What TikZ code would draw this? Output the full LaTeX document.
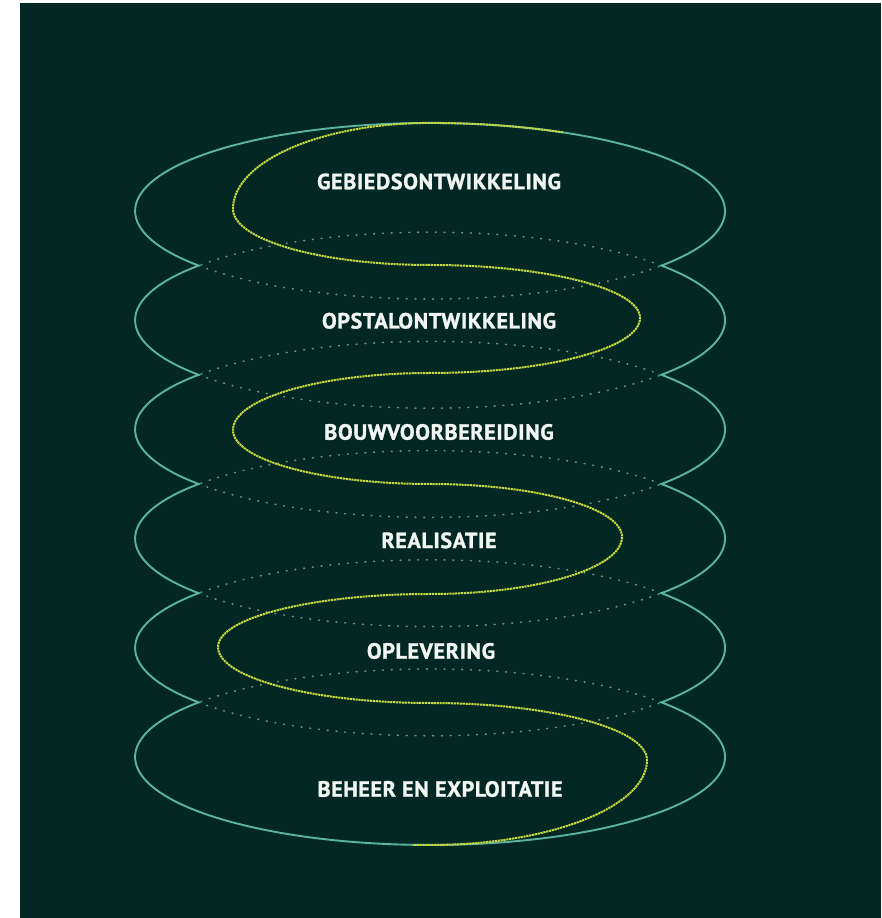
\documentclass[tikz,border=0pt]{standalone}
\usepackage{fontspec}
\setmainfont{PT Sans}
\newfontfamily\phasefont{PT Sans}[BoldFeatures={FakeBold=1.4}, LetterSpace=3]
\definecolor{bgdark}{RGB}{3,40,36}
\definecolor{outlinecol}{RGB}{92,180,160}
\definecolor{hiddencol}{RGB}{92,150,132}
\definecolor{spiralcol}{RGB}{200,218,62}
\definecolor{labelcol}{RGB}{242,246,242}
\begin{document}
\begin{tikzpicture}[x=1pt,y=1pt,
  outline/.style={draw=outlinecol, line width=1.9pt},
  hiddenarc/.style={draw=hiddencol, line width=1.6pt, line cap=round, dash pattern=on 0.8pt off 8pt},
  spiral/.style={draw=spiralcol, line width=2pt, dash pattern=on 2.2pt off 0.7pt},
  phase/.style={text=labelcol, font=\phasefont\bfseries\fontsize{22}{24}\selectfont, inner sep=0pt},
  ell/.style={x radius=295pt, y radius=88pt}]
\useasboundingbox (0,0) rectangle (881,918);
\fill[white] (0,0) rectangle (881,918);
\fill[bgdark] (20,0) rectangle (881,914.5);

% hidden (back) arcs between the stacked rings
\foreach \c in {707,597.8,488.6,379.4,270.2}{
  \draw[hiddenarc] (198.6,{\c-54.6}) arc[start angle=218.35, end angle=321.65, ell];
  \draw[hiddenarc] (661.4,{\c-54.6}) arc[start angle=38.35, end angle=141.65, ell];
}

% outer envelope of the stacked rings
\draw[outline] (661.4,652.4)
  arc[start angle=-38.35, end angle=218.35, ell]
  arc[start angle=141.65, end angle=218.35, ell]
  arc[start angle=141.65, end angle=218.35, ell]
  arc[start angle=141.65, end angle=218.35, ell]
  arc[start angle=141.65, end angle=218.35, ell]
  arc[start angle=141.65, end angle=398.35, ell]
  arc[start angle=-38.35, end angle=38.35, ell]
  arc[start angle=-38.35, end angle=38.35, ell]
  arc[start angle=-38.35, end angle=38.35, ell]
  arc[start angle=-38.35, end angle=38.35, ell]
  -- cycle;

% spiral
\draw[spiral] (563.0,785.6)
  arc[start angle=63.2, end angle=90, ell]
  .. controls +(-108.8,0) and +(0,47.5) .. (233,709)
  .. controls +(0,-30.9) and +(-108.8,0) .. (430,653)
  .. controls +(116,0) and +(0,29.3) .. (640,600)
  .. controls +(0,-30.4) and +(116,0) .. (430,545)
  .. controls +(-108.8,0) and +(0,31.5) .. (233,488)
  .. controls +(0,-29.8) and +(-108.8,0) .. (430,434)
  .. controls +(106,0) and +(0,29.3) .. (622,381)
  .. controls +(0,-31.5) and +(106,0) .. (430,324)
  .. controls +(-117,0) and +(0,29.3) .. (218,271)
  .. controls +(0,-30.9) and +(-117,0) .. (430,215)
  .. controls +(119.8,0) and +(0,31.5) .. (647,158)
  .. controls +(0,-46.9) and +(119.8,0) .. (430,73)
  arc[start angle=270, end angle=266.7, ell];

% labels
\node[phase] (p1) at (439,736.5) {GEBIEDSONTWIKKELING};
\node[phase] (p2) at (439,597.2) {OPSTALONTWIKKELING};
\node[phase] (p3) at (439,486) {BOUWVOORBEREIDING};
\node[phase] (p4) at (439,377.6) {REALISATIE};
\node[phase] (p5) at (431,267) {OPLEVERING};
\node[phase] (p6) at (440,129) {BEHEER EN EXPLOITATIE};
\end{tikzpicture}
\end{document}
